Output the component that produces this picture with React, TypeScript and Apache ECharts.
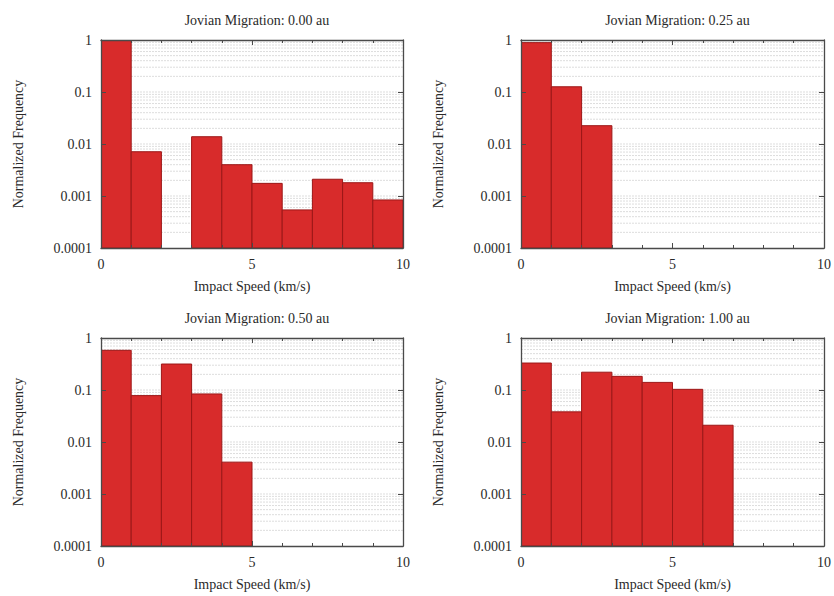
import React, { useEffect, useRef } from "react";
import * as echarts from "echarts";

// Impact-speed histograms (1 km/s bins) for four Jovian migration distances
const binStarts = [0, 1, 2, 3, 4, 5, 6, 7, 8, 9];
const binWidth = 1;

const panelTitles = [
  "Jovian Migration: 0.00 au",
  "Jovian Migration: 0.25 au",
  "Jovian Migration: 0.50 au",
  "Jovian Migration: 1.00 au",
];

const freq000 = [1.0, 0.0071, 0, 0.0138, 0.004, 0.00175, 0.00054, 0.0021, 0.0018, 0.00084];
const freq025 = [0.89, 0.126, 0.0225, 0, 0, 0, 0, 0, 0, 0];
const freq050 = [0.58, 0.078, 0.316, 0.084, 0.0041, 0, 0, 0, 0, 0];
const freq100 = [0.33, 0.038, 0.22, 0.183, 0.14, 0.103, 0.021, 0, 0, 0];

const panelValues = [freq000, freq025, freq050, freq100];

const xTickLabels = ["0", "5", "10"];
const yTickLabels = ["0.0001", "0.001", "0.01", "0.1", "1"];

// horizontal grid lines: every 1..9 step inside each decade
const gridDecades = [0.0001, 0.001, 0.01, 0.1];
const gridSteps = [1, 2, 3, 4, 5, 6, 7, 8, 9];

const X_MIN = 0;
const X_MAX = 10;
const Y_MIN = 0.0001;
const Y_MAX = 1;

const FONT = "'Liberation Serif', 'DejaVu Serif', serif";
const FONT_SIZE = 14;
const FRAME = "#4a4a4a";
const TEXT = "#2a2a2a";
const BAR_FILL = "#d82b2b";
const BAR_EDGE = "#9c1717";

const gridBoxes = [
  { left: 101, top: 40, width: 302, height: 208 },
  { left: 521, top: 40, width: 303, height: 208 },
  { left: 101, top: 338, width: 302, height: 208 },
  { left: 521, top: 338, width: 303, height: 208 },
];

export default function App() {
  const ref = useRef<HTMLDivElement>(null);

  useEffect(() => {
    if (!ref.current) return;
    const chart = echarts.init(ref.current, undefined, { renderer: "svg" });

    const gridLineValues: number[] = [];
    gridDecades.forEach((d) =>
      gridSteps.forEach((s) => {
        const v = Number((d * s).toPrecision(2));
        if (v > Y_MIN && v < Y_MAX) gridLineValues.push(v);
      })
    );

    const yLabelFor = (v: number) => {
      const s = Number(v.toPrecision(1)).toString();
      return yTickLabels.includes(s) ? s : "";
    };
    const xLabelFor = (v: number) => {
      const s = String(Math.round(v));
      return xTickLabels.includes(s) ? s : "";
    };

    const grid: any[] = [];
    const xAxis: any[] = [];
    const yAxis: any[] = [];
    const series: any[] = [];
    const title: any[] = [];

    gridBoxes.forEach((box, i) => {
      grid.push({ ...box, containLabel: false, show: false });

      title.push({
        text: panelTitles[i],
        left: box.left + box.width / 2,
        top: box.top - 32,
        textAlign: "center",
        textStyle: { fontFamily: FONT, fontSize: FONT_SIZE, fontWeight: "normal", color: TEXT },
      });

      const baseX = {
        type: "value",
        gridIndex: i,
        min: X_MIN,
        max: X_MAX,
        interval: 5,
        z: 5,
        axisLine: { show: true, onZero: false, lineStyle: { color: FRAME, width: 1.3 } },
        axisTick: { show: true, inside: true, length: 5, lineStyle: { color: FRAME } },
        minorTick: { show: true, splitNumber: 5, length: 3, lineStyle: { color: FRAME } },
        splitLine: { show: false },
      };
      xAxis.push({
        ...baseX,
        position: "bottom",
        name: "Impact Speed (km/s)",
        nameLocation: "middle",
        nameGap: 31,
        nameTextStyle: { fontFamily: FONT, fontSize: FONT_SIZE, color: TEXT },
        axisLabel: {
          show: true,
          margin: 9,
          fontFamily: FONT,
          fontSize: FONT_SIZE,
          color: TEXT,
          formatter: xLabelFor,
        },
      });
      xAxis.push({ ...baseX, position: "top", axisLabel: { show: false } });

      const baseY = {
        type: "log",
        logBase: 10,
        gridIndex: i,
        min: Y_MIN,
        max: Y_MAX,
        z: 5,
        axisLine: { show: true, onZero: false, lineStyle: { color: FRAME, width: 1.3 } },
        axisTick: { show: true, inside: true, length: 5, lineStyle: { color: FRAME } },
        splitLine: { show: false },
      };
      yAxis.push({
        ...baseY,
        position: "left",
        name: "Normalized Frequency",
        nameLocation: "middle",
        nameGap: 76,
        nameRotate: 90,
        nameTextStyle: { fontFamily: FONT, fontSize: FONT_SIZE, color: TEXT },
        axisLabel: {
          show: true,
          margin: 9,
          fontFamily: FONT,
          fontSize: FONT_SIZE,
          color: TEXT,
          formatter: yLabelFor,
        },
      });
      yAxis.push({ ...baseY, position: "right", axisLabel: { show: false } });

      const xIdx = i * 2;
      const yIdx = i * 2;

      // light horizontal grid across the plot
      series.push({
        type: "custom",
        xAxisIndex: xIdx,
        yAxisIndex: yIdx,
        z: 1,
        silent: true,
        clip: true,
        encode: { x: [0, 1], y: 2 },
        data: gridLineValues.map((v) => [X_MIN, X_MAX, v]),
        renderItem: (_p: any, api: any) => {
          const a = api.coord([api.value(0), api.value(2)]);
          const b = api.coord([api.value(1), api.value(2)]);
          return {
            type: "line",
            shape: { x1: a[0], y1: a[1], x2: b[0], y2: b[1] },
            style: { stroke: "#dddddd", lineWidth: 1, lineDash: [2, 1] },
          };
        },
      });

      // histogram bars
      series.push({
        type: "custom",
        xAxisIndex: xIdx,
        yAxisIndex: yIdx,
        z: 2,
        clip: true,
        encode: { x: [0, 1], y: 2 },
        data: binStarts.map((s, k) => [s, s + binWidth, panelValues[i][k]]),
        renderItem: (_p: any, api: any) => {
          const v = api.value(2);
          if (!(v > 0)) return null;
          const top = api.coord([api.value(0), v]);
          const bottom = api.coord([api.value(1), Y_MIN]);
          return {
            type: "rect",
            shape: {
              x: top[0],
              y: top[1],
              width: bottom[0] - top[0],
              height: bottom[1] - top[1],
            },
            style: { fill: BAR_FILL, stroke: BAR_EDGE, lineWidth: 1 },
          };
        },
      });
    });

    chart.setOption({
      animation: false,
      backgroundColor: "#ffffff",
      title,
      grid,
      xAxis,
      yAxis,
      series,
    });

    return () => chart.dispose();
  }, []);

  return (
    <div
      ref={ref}
      style={{ position: "fixed", left: 0, top: 0, width: 834, height: 596 }}
    />
  );
}
